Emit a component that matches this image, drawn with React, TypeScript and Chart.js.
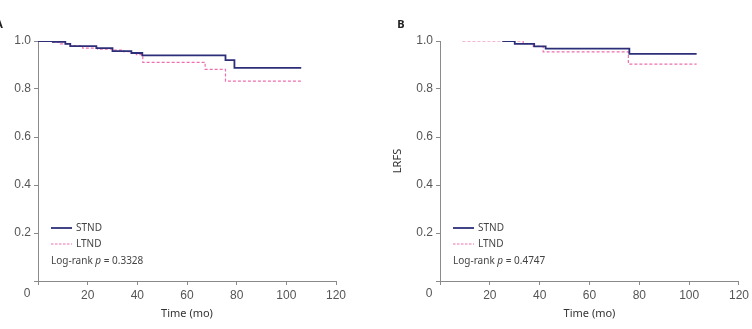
import React, { useEffect, useRef } from "react";
import { Chart, registerables } from "chart.js";

Chart.register(...registerables);

// Panel A – survival curves
const aStndTimes = [0, 6, 11, 13, 23.5, 30, 37.6, 42, 75.5, 79.1, 106];
const aStndSurv = [1.0, 0.996, 0.988, 0.979, 0.97, 0.958, 0.95, 0.94, 0.92, 0.888, 0.888];
const aLtndTimes = [0, 5, 9, 13, 18, 24, 30, 34.5, 37.7, 39.6, 42.2, 67.3, 75.5, 106];
const aLtndSurv = [1.0, 0.995, 0.988, 0.98, 0.97, 0.966, 0.962, 0.956, 0.95, 0.943, 0.911, 0.882, 0.833, 0.833];

// Panel B – LRFS curves
const bStndTimes = [25, 30, 37.8, 42.4, 76, 103];
const bStndSurv = [1.0, 0.988, 0.978, 0.968, 0.946, 0.946];
const bLtndTimes = [9, 33.4, 37.4, 41.4, 75.6, 103];
const bLtndSurv = [1.0, 0.989, 0.978, 0.955, 0.904, 0.904];

const seriesNames = ["STND", "LTND"];
const xTicks = [0, 20, 40, 60, 80, 100, 120];
const yTicks = [0, 0.2, 0.4, 0.6, 0.8, 1.0];

const NAVY = "#2c2f78";
const PINK = "#ee6fae";
const AXIS = "#8a8a8a";
const TICK_TEXT = "#555555";
const TEXT = "#444444";

type PanelProps = {
  letter: string;
  yTitle: string;
  pValue: string;
  stndTimes: number[];
  stndSurv: number[];
  ltndTimes: number[];
  ltndSurv: number[];
  left: number;
  width: number;
  axisLeft: number;
  padRight: number;
};

function toPoints(times: number[], surv: number[]) {
  return times.map((t, i) => ({ x: t, y: surv[i] }));
}

function Panel(props: PanelProps) {
  const ref = useRef<HTMLCanvasElement | null>(null);

  useEffect(() => {
    if (!ref.current) return;

    const annotations = {
      id: "kmAnnotations",
      afterDraw(chart: any) {
        const { ctx, chartArea } = chart;
        const { left, right, top, bottom } = chartArea;
        ctx.save();

        // shared origin label
        ctx.fillStyle = TICK_TEXT;
        ctx.font = "12px 'Liberation Sans', Arial, sans-serif";
        ctx.textAlign = "center";
        ctx.textBaseline = "middle";
        ctx.fillText("0", left - 11, bottom + 13);

        // axis titles
        ctx.fillStyle = "#333333";
        ctx.font = "11px 'Noto Sans', sans-serif";
        ctx.fillText("Time (mo)", (left + right) / 2, bottom + 33);
        ctx.save();
        ctx.translate(left - 42, (top + bottom) / 2);
        ctx.rotate(-Math.PI / 2);
        ctx.fillText(props.yTitle, 0, 0);
        ctx.restore();

        // panel letter
        ctx.font = "bold 11px 'Noto Sans', sans-serif";
        ctx.fillStyle = "#222222";
        ctx.fillText(props.letter, left - 39, 25);

        // legend
        const lx = left + 13;
        const y1 = 228;
        const y2 = 244;
        ctx.lineWidth = 1.8;
        ctx.strokeStyle = NAVY;
        ctx.beginPath();
        ctx.moveTo(lx, y1);
        ctx.lineTo(lx + 21, y1);
        ctx.stroke();
        ctx.lineWidth = 1;
        ctx.strokeStyle = PINK;
        ctx.setLineDash([2.5, 1.5]);
        ctx.beginPath();
        ctx.moveTo(lx, y2);
        ctx.lineTo(lx + 21, y2);
        ctx.stroke();
        ctx.setLineDash([]);

        ctx.fillStyle = TEXT;
        ctx.font = "10px 'Noto Sans', sans-serif";
        ctx.textAlign = "left";
        ctx.fillText(seriesNames[0], lx + 25, y1);
        ctx.fillText(seriesNames[1], lx + 25, y2);

        // log-rank p value with italic p
        const y3 = 261;
        let x = lx;
        const a = "Log-rank ";
        ctx.fillText(a, x, y3);
        x += ctx.measureText(a).width;
        ctx.font = "italic 10px 'Noto Sans', sans-serif";
        ctx.fillText("p", x, y3);
        x += ctx.measureText("p").width;
        ctx.font = "10px 'Noto Sans', sans-serif";
        ctx.fillText(" = " + props.pValue, x, y3);

        ctx.restore();
      },
    };

    const chart = new Chart(ref.current, {
      type: "line",
      data: {
        datasets: [
          {
            label: seriesNames[0],
            data: toPoints(props.stndTimes, props.stndSurv),
            borderColor: NAVY,
            borderWidth: 1.8,
            stepped: "before",
            pointRadius: 0,
            fill: false,
          },
          {
            label: seriesNames[1],
            data: toPoints(props.ltndTimes, props.ltndSurv),
            borderColor: PINK,
            borderWidth: 1.2,
            borderDash: [3, 2],
            stepped: "before",
            pointRadius: 0,
            fill: false,
          },
        ],
      },
      options: {
        animation: false,
        responsive: false,
        devicePixelRatio: 1,
        layout: { padding: { top: 41, right: props.padRight, bottom: 0, left: 0 } },
        plugins: { legend: { display: false }, tooltip: { enabled: false } },
        scales: {
          x: {
            type: "linear",
            min: xTicks[0],
            max: xTicks[xTicks.length - 1],
            afterBuildTicks: (scale: any) => {
              scale.ticks = xTicks.map((v) => ({ value: v }));
            },
            afterFit: (scale: any) => {
              scale.height = 48;
            },
            ticks: {
              color: TICK_TEXT,
              font: { family: "'Liberation Sans', Arial, sans-serif", size: 12 },
              padding: 3,
              maxRotation: 0,
              callback: (v: any) => (v === 0 ? "" : String(v)),
            },
            grid: { drawOnChartArea: false, drawTicks: true, tickLength: 4, color: AXIS },
            border: { display: true, color: AXIS, width: 1 },
          },
          y: {
            min: yTicks[0],
            max: yTicks[yTicks.length - 1],
            afterBuildTicks: (scale: any) => {
              scale.ticks = yTicks.map((v) => ({ value: v }));
            },
            afterFit: (scale: any) => {
              scale.width = props.axisLeft;
            },
            ticks: {
              color: TICK_TEXT,
              font: { family: "'Liberation Sans', Arial, sans-serif", size: 12 },
              padding: 3,
              callback: (v: any) => (v === 0 ? "" : Number(v).toFixed(1)),
            },
            grid: { drawOnChartArea: false, drawTicks: true, tickLength: 4, color: AXIS },
            border: { display: true, color: AXIS, width: 1 },
          },
        },
      },
      plugins: [annotations],
    } as any);

    return () => chart.destroy();
  }, []);

  return (
    <div style={{ position: "absolute", left: props.left, top: 0, width: props.width, height: 329 }}>
      <canvas ref={ref} width={props.width} height={329} style={{ width: props.width, height: 329 }} />
    </div>
  );
}

export default function App() {
  return (
    <div
      style={{
        position: "fixed",
        left: 0,
        top: 0,
        width: 752,
        height: 329,
        overflow: "hidden",
        background: "#ffffff",
      }}
    >
      <Panel
        letter="A"
        yTitle="DFS"
        pValue="0.3328"
        stndTimes={aStndTimes}
        stndSurv={aStndSurv}
        ltndTimes={aLtndTimes}
        ltndSurv={aLtndSurv}
        left={-40}
        width={400}
        axisLeft={78}
        padRight={24}
      />
      <Panel
        letter="B"
        yTitle="LRFS"
        pValue="0.4747"
        stndTimes={bStndTimes}
        stndSurv={bStndSurv}
        ltndTimes={bLtndTimes}
        ltndSurv={bLtndSurv}
        left={360}
        width={392}
        axisLeft={80}
        padRight={13}
      />
    </div>
  );
}
